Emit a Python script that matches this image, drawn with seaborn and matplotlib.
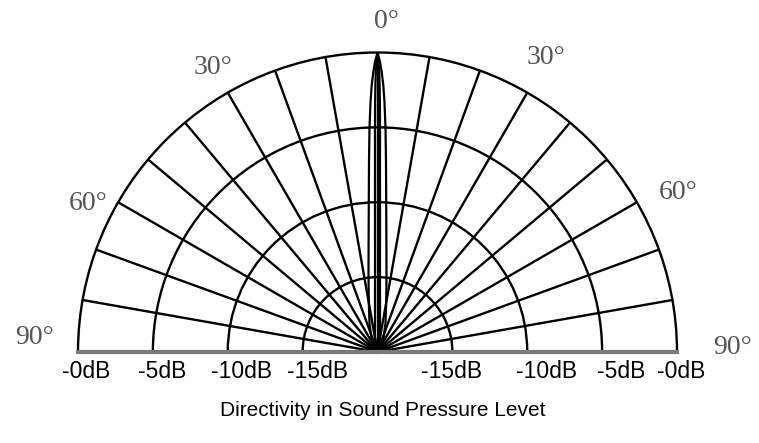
import numpy as np
import pandas as pd
import matplotlib.pyplot as plt
import seaborn as sns

# data
db_floor = -20
db_rings = [-15, -10, -5]                 # inner rings, outer edge is 0 dB
grid_angles = [a for a in range(-80, 90, 10)]
angle_labels = ["0°", "30°", "30°", "60°", "60°", "90°", "90°"]
db_labels_left = ["-0dB", "-5dB", "-10dB", "-15dB"]
db_labels_right = ["-15dB", "-10dB", "-5dB", "-0dB"]

# main lobe (one side, mirrored), angle in degrees vs level in dB
lobe_db = [0, -0.63, -1.3, -2.17, -3.3, -5.04, -7.3, -10.05, -12.65, -15, -16.7, -18, -19, -20]
lobe_outer_deg = [0, 0.49, 0.86, 1.24, 1.6, 2.05, 2.56, 3.35, 4.64, 6.9, 10.1, 15.5, 23.6, 0]
lobe_inner_deg = [0, 0.2, 0.35, 0.45, 0.55, 0.64, 0.75, 0.96, 1.3, 1.9, 2.9, 4.8, 9.6, 0]

W, H = 759, 443
def px(x, y):
    return x / W, 1 - y / H

sns.set_style("white")
fig = plt.figure(figsize=(W / 100, H / 100), dpi=100)

# polar axes keep a square box; the half disc sits in its middle band
cx, cy, R = 377.5, 352, 299.5
ax = fig.add_axes([(cx - R) / W, ((H - cy) - R / 2) / H, 2 * R / W, 2 * R / H],
                  projection="polar")
ax.set_theta_zero_location("N")
ax.set_theta_direction(-1)
ax.set_thetamin(-90)
ax.set_thetamax(90)
ax.set_rlim(0, -db_floor)

ax.set_thetagrids(grid_angles, labels=[""] * len(grid_angles))
ax.set_rgrids([d - db_floor for d in db_rings], labels=[""] * len(db_rings))
ax.grid(True, color="black", lw=1.7)
ax.spines["polar"].set_color("black")
ax.spines["polar"].set_linewidth(1.7)
for s in ["start", "end"]:
    ax.spines[s].set_color("#7a7a7a")
    ax.spines[s].set_linewidth(3)
ax.spines["inner"].set_visible(False)

# lobes
for degs in [lobe_outer_deg, lobe_inner_deg]:
    th = np.deg2rad(np.r_[-np.array(degs[:-1]), np.array(degs[::-1])])
    rr = np.r_[np.array(lobe_db[:-1]), np.array(lobe_db[::-1])] - db_floor
    df = pd.DataFrame({"theta": th, "r": rr})
    sns.lineplot(data=df, x="theta", y="r", sort=False, estimator=None,
                 color="black", lw=1.6, ax=ax)
ax.set_xlabel("")
ax.set_ylabel("")

# angle labels
serif = dict(family="Liberation Serif", fontsize=20, color="#555555",
             ha="center", va="center")
pos_deg = [(386, 22), (213, 68), (546, 58), (88, 203), (678, 193), (35, 338), (732, 347)]
for lab, (x, y) in zip(angle_labels, pos_deg):
    fig.text(*px(x, y), lab, **serif)

sans = dict(family="Liberation Sans", fontsize=16.5, color="black",
            ha="center", va="center")
for lab, x in zip(db_labels_left, [86, 162, 242, 318]):
    fig.text(*px(x, 372), lab, **sans)
for lab, x in zip(db_labels_right, [452, 547, 621, 681]):
    fig.text(*px(x, 372), lab, **sans)

fig.text(*px(383, 411), "Directivity in Sound Pressure Levet",
         family="Liberation Sans", fontsize=15, color="black", ha="center", va="center")

fig.savefig("out.png", dpi=100)
